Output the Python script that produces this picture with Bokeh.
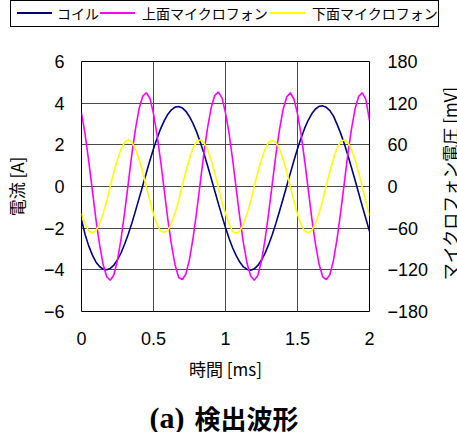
import math
from bokeh.plotting import figure
from bokeh.layouts import column, row
from bokeh.models import (Range1d, LinearAxis, FixedTicker, Label, Div,
                          ColumnDataSource)
from bokeh.embed import file_html
from bokeh.resources import INLINE

# ---------------- data ----------------
time_ms = [0.0, 0.025, 0.05, 0.075, 0.1, 0.125, 0.15, 0.175, 0.2, 0.225,
           0.25, 0.275, 0.3, 0.325, 0.35, 0.375, 0.4, 0.425, 0.45, 0.475,
           0.5, 0.525, 0.55, 0.575, 0.6, 0.625, 0.65, 0.675, 0.7, 0.725,
           0.75, 0.775, 0.8, 0.825, 0.85, 0.875, 0.9, 0.925, 0.95, 0.975,
           1.0, 1.025, 1.05, 1.075, 1.1, 1.125, 1.15, 1.175, 1.2, 1.225,
           1.25, 1.275, 1.3, 1.325, 1.35, 1.375, 1.4, 1.425, 1.45, 1.475,
           1.5, 1.525, 1.55, 1.575, 1.6, 1.625, 1.65, 1.675, 1.7, 1.725,
           1.75, 1.775, 1.8, 1.825, 1.85, 1.875, 1.9, 1.925, 1.95, 1.975,
           2.0]

coil_A = [-1.60, -2.30, -2.85, -3.28, -3.62, -3.84, -3.97, -4.00, -3.93, -3.77,
          -3.51, -3.18, -2.76, -2.28, -1.75, -1.17, -0.57, 0.04, 0.65, 1.25,
          1.81, 2.32, 2.78, 3.16, 3.47, 3.68, 3.81, 3.84, 3.77, 3.61,
          3.35, 3.02, 2.61, 2.12, 1.59, 1.01, 0.41, -0.20, -0.81, -1.41,
          -1.97, -2.50, -2.95, -3.33, -3.64, -3.86, -3.98, -4.02, -3.95, -3.79,
          -3.53, -3.20, -2.78, -2.30, -1.77, -1.19, -0.59, 0.02, 0.63, 1.24,
          1.81, 2.33, 2.80, 3.19, 3.50, 3.72, 3.85, 3.87, 3.80, 3.64,
          3.38, 2.98, 2.55, 2.05, 1.50, 0.90, 0.30, -0.32, -0.95, -1.55,
          -2.15]

upper_mic_mV = [106, 75, 37, -5, -47, -83, -112, -130, -135, -127,
                -106, -75, -37, 5, 47, 83, 112, 130, 135, 127,
                105, 74, 36, -6, -48, -84, -113, -131, -134, -126,
                -105, -74, -36, 6, 48, 84, 113, 131, 136, 128,
                106, 76, 38, -4, -46, -82, -111, -129, -135, -128,
                -107, -76, -38, 4, 46, 82, 111, 129, 135, 126,
                105, 75, 37, -5, -47, -83, -112, -130, -134, -127,
                -106, -75, -37, 5, 47, 83, 112, 130, 135, 125,
                95]

lower_mic_mV = [-39, -54, -64, -67, -64, -54, -39, -21, 0, 21,
                39, 54, 64, 67, 64, 54, 39, 21, 0, -21,
                -40, -55, -64, -66, -63, -53, -38, -20, 1, 22,
                40, 55, 65, 67, 63, 53, 38, 20, -1, -22,
                -39, -54, -65, -67, -64, -54, -39, -21, 0, 21,
                39, 54, 64, 66, 64, 54, 39, 21, 0, -21,
                -40, -55, -64, -67, -63, -53, -38, -20, 1, 22,
                40, 55, 65, 67, 63, 53, 38, 20, -1, -22,
                -42]

series_names = ["コイル", "上面マイクロフォン", "下面マイクロフォン"]
series_colors = ["#000080", "#FF00FF", "#FFFF00"]
x_ticks = [0, 0.5, 1, 1.5, 2]
current_ticks = [-6, -4, -2, 0, 2, 4, 6]
voltage_ticks = [-180, -120, -60, 0, 60, 120, 180]
right_axis_title = "マイクロフォン電圧 [mV]"

tick_font = "Liberation Sans"
cjk_font = "Noto Sans CJK JP"
W = 449

# ---------------- legend strip (HTML) ----------------
leg_h = 30
line_left = [7, 90, 260]      # px inside the legend box
text_left = [47, 132, 302]
parts = ['<div style="position:absolute;left:0;top:0;width:429px;height:27px;'
         'border:1px solid #000;box-sizing:border-box;background:#fff;"></div>']
for n, c, lx, tx in zip(series_names, series_colors, line_left, text_left):
    parts.append(f'<div style="position:absolute;left:{lx}px;top:12px;width:35px;'
                 f'height:0;border-top:2px solid {c};"></div>')
    parts.append(f'<div style="position:absolute;left:{tx}px;top:3px;'
                 f'line-height:20px;white-space:nowrap;">{n}</div>')
legend_html = (f'<div style="position:relative;left:10px;top:0;width:429px;height:27px;'
               f"font-family:'{cjk_font}';font-size:14px;color:#000;\">"
               + "".join(parts) + "</div>")
legend_div = Div(text=legend_html, width=W, height=leg_h, margin=(0, 0, 0, 0))

# ---------------- main chart ----------------
top_b, bottom_b = 31, 80
left_b, frame_w, right_b = 71, 288, 62
side_w = W - left_b - frame_w - right_b
p = figure(frame_width=frame_w, frame_height=250, output_backend="svg",
           toolbar_location=None,
           x_range=Range1d(0, 2), y_range=Range1d(-6, 6),
           min_border_left=left_b, min_border_right=right_b,
           min_border_top=top_b, min_border_bottom=bottom_b)
p.extra_y_ranges = {"mic": Range1d(-180, 180)}
p.background_fill_color = "white"
p.border_fill_color = "white"
p.outline_line_color = "black"
p.outline_line_width = 1

src = ColumnDataSource(dict(t=time_ms, coil=coil_A, up=upper_mic_mV, low=lower_mic_mV))
p.line("t", "coil", source=src, line_color=series_colors[0], line_width=1.6)
p.line("t", "up", source=src, line_color=series_colors[1], line_width=1.6,
       y_range_name="mic")
p.line("t", "low", source=src, line_color=series_colors[2], line_width=1.6,
       y_range_name="mic")

xa = p.xaxis[0]
xa.ticker = FixedTicker(ticks=x_ticks)
xa.axis_label = "時間 [ms]"

ya = p.yaxis[0]
ya.ticker = FixedTicker(ticks=current_ticks)
ya.axis_label = "電流 [A]"

ra = LinearAxis(y_range_name="mic", ticker=FixedTicker(ticks=voltage_ticks))
p.add_layout(ra, "right")

for ax in (xa, ya, ra):
    ax.axis_line_color = None
    ax.major_tick_line_color = None
    ax.minor_tick_line_color = None
    ax.major_tick_out = 0
    ax.major_tick_in = 0
    ax.minor_tick_out = 0
    ax.minor_tick_in = 0
    ax.major_label_text_font = tick_font
    ax.major_label_text_font_size = "18px"
    ax.major_label_text_color = "black"
    ax.axis_label_text_font = cjk_font
    ax.axis_label_text_font_size = "17px"
    ax.axis_label_text_font_style = "normal"
    ax.axis_label_text_color = "black"

xa.major_label_standoff = 20
xa.axis_label_standoff = 8
ya.major_label_standoff = 17
ya.axis_label_standoff = 12
ra.major_label_standoff = 18

p.xgrid.ticker = FixedTicker(ticks=x_ticks)
p.ygrid.ticker = FixedTicker(ticks=current_ticks)
for g in (p.xgrid, p.ygrid):
    g.grid_line_color = "#4a4a4a"
    g.grid_line_width = 1
    g.grid_line_alpha = 1

# ---------------- right-axis title strip (reads bottom to top) ----------------
rf = figure(frame_width=side_w, frame_height=250, output_backend="svg",
            toolbar_location=None, x_axis_type=None, y_axis_type=None,
            x_range=Range1d(0, side_w), y_range=Range1d(0, 250),
            min_border_left=0, min_border_right=0,
            min_border_top=top_b, min_border_bottom=bottom_b)
rf.outline_line_color = None
rf.background_fill_color = "white"
rf.border_fill_color = "white"
rf.add_layout(Label(x=18, y=128, text=right_axis_title, angle=math.pi / 2,
                    text_align="center", text_baseline="middle",
                    text_font=cjk_font, text_font_size="17px",
                    text_color="black"))

# ---------------- caption strip ----------------
cap_h = 432 - leg_h - (top_b + 250 + bottom_b)
cf = figure(frame_width=frame_w, frame_height=cap_h, output_backend="svg",
            toolbar_location=None, x_axis_type=None, y_axis_type=None,
            x_range=Range1d(0, frame_w), y_range=Range1d(0, cap_h),
            min_border_left=left_b, min_border_right=W - left_b - frame_w,
            min_border_top=0, min_border_bottom=0)
cf.outline_line_color = None
cf.background_fill_color = "white"
cf.border_fill_color = "white"
cf.add_layout(Label(x=78, y=15, text="(a)", text_align="left",
                    text_baseline="middle", text_font="Liberation Serif",
                    text_font_size="30px", text_font_style="bold",
                    text_color="black"))
cf.add_layout(Label(x=123, y=15, text="検出波形", text_align="left",
                    text_baseline="middle", text_font=cjk_font,
                    text_font_size="26px", text_font_style="bold",
                    text_color="black"))

layout = column(legend_div, row(p, rf, spacing=0), cf, spacing=0)
open("out.html", "w").write(file_html(layout, INLINE))
